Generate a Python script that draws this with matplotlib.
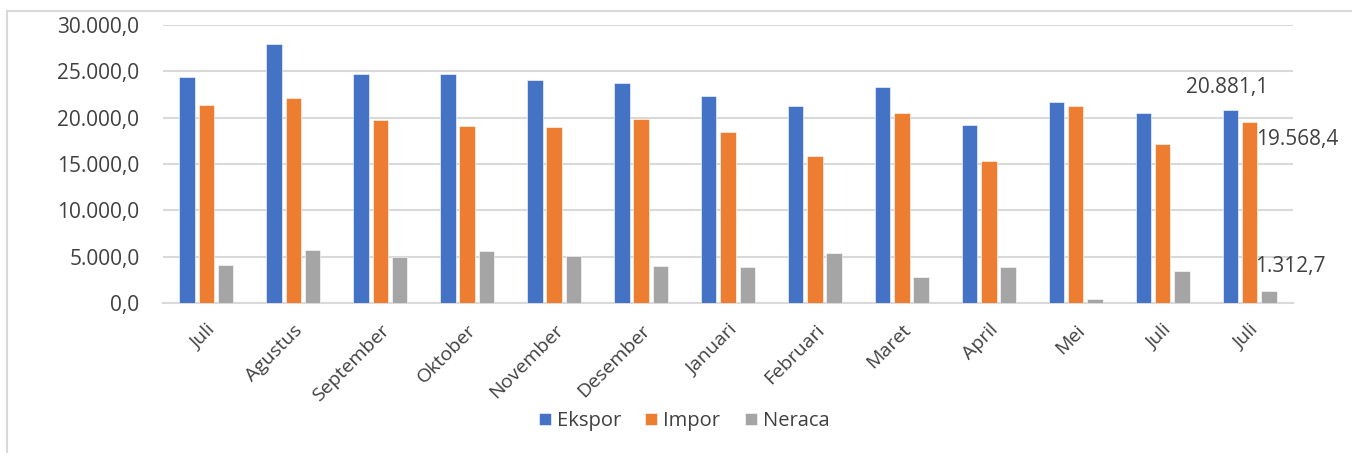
import matplotlib
matplotlib.use("Agg")
import matplotlib.pyplot as plt
import numpy as np
from matplotlib.patches import Rectangle

categories = ["Juli", "Agustus", "September", "Oktober", "November", "Desember",
              "Januari", "Februari", "Maret", "April", "Mei", "Juli", "Juli"]
ekspor = [24440, 27940, 24730, 24700, 24050, 23760, 22320, 21270, 23360, 19250, 21670, 20550, 20881.1]
impor = [21350, 22140, 19790, 19110, 18970, 19870, 18420, 15900, 20550, 15290, 21270, 17130, 19568.4]
neraca = [4110, 5770, 4940, 5590, 5080, 3940, 3860, 5380, 2810, 3890, 400, 3430, 1312.7]
series_names = ["Ekspor", "Impor", "Neraca"]
colors = ["#4472C4", "#ED7D31", "#A5A5A5"]
yticks = [0, 5000, 10000, 15000, 20000, 25000, 30000]

def fmt(v, dec=1):
    s = f"{v:,.{dec}f}"
    return s.replace(",", "X").replace(".", ",").replace("X", ".")

plt.rcParams['font.family'] = ['Open Sans', 'DejaVu Sans']

fig = plt.figure(figsize=(13.52, 4.53), dpi=100)
W, H = 1352, 453
ax = fig.add_axes([163 / W, 1 - 303 / H, (1293 - 163) / W, (303 - 25) / H])

# outer chart border
fig.patches.append(Rectangle((7 / W, -0.1), 1.2, 1 - 11 / H + 0.1, transform=fig.transFigure,
                             fill=False, edgecolor="#D9D9D9", linewidth=1.5))

x = np.arange(len(categories))
w = 0.178
off = 0.222
data = [ekspor, impor, neraca]
for i, (vals, c, n) in enumerate(zip(data, colors, series_names)):
    ax.bar(x + (i - 1) * off, vals, width=w, color=c, label=n, zorder=3,
           edgecolor="white", linewidth=0.4)

ax.set_xlim(-0.5, len(categories) - 0.5)
ax.set_ylim(0, 30000)
ax.set_yticks(yticks)
ax.set_yticklabels([fmt(v) for v in yticks], fontsize=15, color="#404040")
ax.yaxis.grid(True, color="#D9D9D9", linewidth=1.5, zorder=0)
ax.set_axisbelow(True)
for s in ["top", "right", "left"]:
    ax.spines[s].set_visible(False)
ax.spines["bottom"].set_color("#D9D9D9")
ax.spines["bottom"].set_linewidth(1.5)
ax.tick_params(axis="both", length=0)
ax.tick_params(axis="y", pad=17)
ax.set_xticks(x)
ax.set_xticklabels(categories, rotation=45, ha="right", rotation_mode="anchor",
                   fontsize=14, color="#404040")
ax.tick_params(axis="x", pad=13)

# data labels on the last group
last = len(categories) - 1
ax.annotate(fmt(ekspor[-1]), (last - off, ekspor[-1]), xytext=(-2, 8),
            textcoords="offset points", ha="center", va="bottom", fontsize=15, color="#404040")
ax.annotate(fmt(impor[-1]), (last + off * 0.5, impor[-1]), xytext=(-2, -5),
            textcoords="offset points", ha="left", va="top", fontsize=15, color="#404040")
ax.annotate(fmt(neraca[-1]), (last + off, neraca[-1]), xytext=(-10, 10),
            textcoords="offset points", ha="left", va="bottom", fontsize=15, color="#404040")

leg = fig.legend(loc="center", bbox_to_anchor=(684 / W, 1 - 421 / H), ncol=3, frameon=False,
                 fontsize=14.5, handlelength=0.6, handleheight=0.6, columnspacing=1.2,
                 handletextpad=0.3, labelcolor="#404040")

fig.savefig("out.png", dpi=100)
